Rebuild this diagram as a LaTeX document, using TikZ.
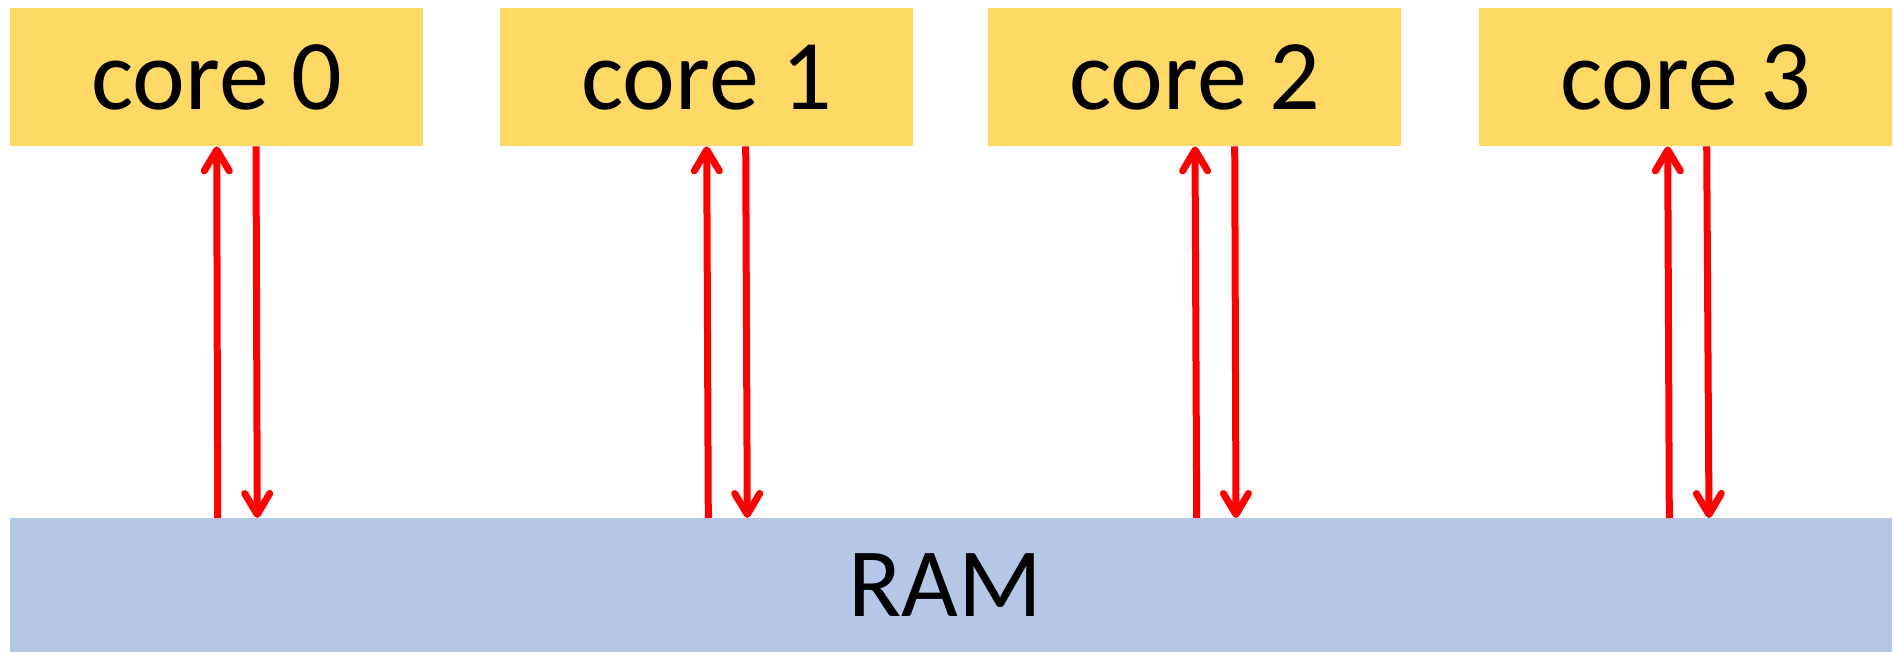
\documentclass[tikz,border=0pt]{standalone}
\usepackage{fontspec}
\setmainfont{Carlito}
\usetikzlibrary{arrows.meta}

\definecolor{coregold}{HTML}{FFD966}
\definecolor{ramblue}{HTML}{B4C7E7}
\definecolor{linkred}{HTML}{FF0000}

\tikzset{
  corebox/.style={fill=coregold, draw=none, inner sep=0pt, anchor=north west,
    minimum width=413pt, minimum height=138pt,
    font=\fontsize{100}{100}\selectfont},
  rambox/.style={fill=ramblue, draw=none, inner sep=0pt, anchor=north west,
    minimum width=1882pt, minimum height=134pt,
    font=\fontsize{98}{98}\selectfont},
  link/.style={draw=linkred, line width=7pt,
    -{Straight Barb[length=21pt, width=25pt, line cap=round, line join=round]}},
}

\begin{document}
\begin{tikzpicture}[x=1pt, y=-1pt]
  \useasboundingbox (0,0) rectangle (1894,652);

  % the four cores along the top
  \node[corebox] (c0) at (10,8)   {core 0};
  \node[corebox] (c1) at (500,8)  {core 1};
  \node[corebox] (c2) at (988,8)  {core 2};
  \node[corebox] (c3) at (1479,8) {core 3};

  % shared memory along the bottom
  \node[rambox] (ram) at (10,518) {RAM\hspace*{12pt}};

  % read (up) and write (down) links between each core and the RAM
  \draw[link] ([xshift=207.7pt]ram.north west) -- ([xshift=206.7pt]c0.south west);
  \draw[link] ([xshift=246pt]c0.south west) -- ([xshift=247.3pt]ram.north west);

  \draw[link] ([xshift=698.3pt]ram.north west) -- ([xshift=206.7pt]c1.south west);
  \draw[link] ([xshift=245.7pt]c1.south west) -- ([xshift=737.3pt]ram.north west);

  \draw[link] ([xshift=1186.7pt]ram.north west) -- ([xshift=207pt]c2.south west);
  \draw[link] ([xshift=246.7pt]c2.south west) -- ([xshift=1226pt]ram.north west);

  \draw[link] ([xshift=1659.3pt]ram.north west) -- ([xshift=188.7pt]c3.south west);
  \draw[link] ([xshift=227.7pt]c3.south west) -- ([xshift=1699pt]ram.north west);
\end{tikzpicture}
\end{document}
